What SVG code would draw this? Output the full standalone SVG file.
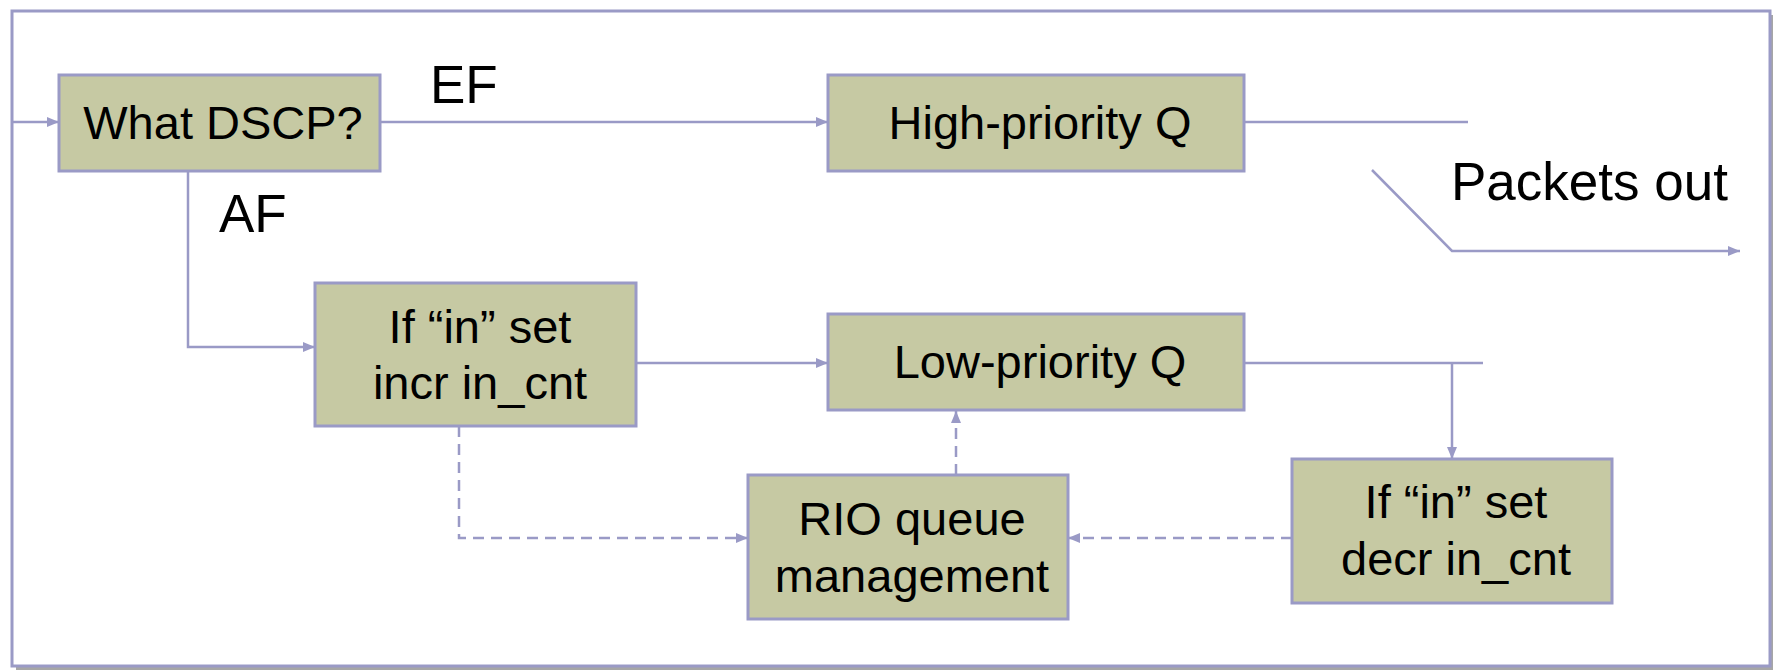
<svg xmlns="http://www.w3.org/2000/svg" width="1773" height="671" viewBox="0 0 1773 671">
  <defs>
    <marker id="arr" viewBox="0 0 12 10" refX="12" refY="5" markerWidth="12" markerHeight="10" markerUnits="userSpaceOnUse" orient="auto">
      <path d="M0,0 L12,5 L0,10 Z" fill="#9a9ac6"/>
    </marker>
    <style>
      .box { fill: #c6c9a3; stroke: #9a9ac6; stroke-width: 3; }
      .t { font-family: "Liberation Sans", Arial, sans-serif; font-size: 47px; fill: #000; text-anchor: middle; }
      .lbl { font-family: "Liberation Sans", Arial, sans-serif; font-size: 53px; fill: #000; }
      .ln { fill: none; stroke: #9a9ac6; stroke-width: 2.5; }
      .dash { fill: none; stroke: #9a9ac6; stroke-width: 2.5; stroke-dasharray: 11 7; }
    </style>
  </defs>
  <rect x="0" y="0" width="1773" height="671" fill="#ffffff"/>
  <!-- frame with shadow -->
  <rect x="16" y="15" width="1758" height="655" fill="#a6a6a6"/>
  <rect x="12" y="11" width="1758" height="655" fill="#ffffff" stroke="#9a9ac6" stroke-width="3"/>

  <g id="connectors">
    <line class="ln" x1="12" y1="122" x2="59" y2="122" marker-end="url(#arr)"/>
    <line class="ln" x1="380" y1="122" x2="828" y2="122" marker-end="url(#arr)"/>
    <polyline class="ln" points="188,171 188,347 315,347" marker-end="url(#arr)"/>
    <line class="ln" x1="636" y1="363" x2="828" y2="363" marker-end="url(#arr)"/>
    <line class="ln" x1="1244" y1="122" x2="1468" y2="122"/>
    <polyline class="ln" points="1372,170 1452,251 1740,251" marker-end="url(#arr)"/>
    <line class="ln" x1="1244" y1="363" x2="1483" y2="363"/>
    <line class="ln" x1="1452" y1="363" x2="1452" y2="459" marker-end="url(#arr)"/>
    <polyline class="dash" points="459,426 459,538 748,538" marker-end="url(#arr)"/>
    <line class="dash" x1="956" y1="475" x2="956" y2="411" marker-end="url(#arr)"/>
    <line class="dash" x1="1292" y1="538" x2="1068" y2="538" marker-end="url(#arr)"/>
  </g>

  <g id="labels">
    <text class="lbl" x="430" y="103">EF</text>
    <text class="lbl" x="219" y="232">AF</text>
    <text class="lbl" x="1451" y="200">Packets out</text>
  </g>

  <g id="dscp">
    <rect class="box" x="59" y="75" width="321" height="96"/>
    <text class="t" x="223" y="139">What DSCP?</text>
  </g>
  <g id="highq">
    <rect class="box" x="828" y="75" width="416" height="96"/>
    <text class="t" x="1040" y="139">High-priority Q</text>
  </g>
  <g id="incr">
    <rect class="box" x="315" y="283" width="321" height="143"/>
    <text class="t" x="480" y="343">If “in” set</text>
    <text class="t" x="480" y="399">incr in_cnt</text>
  </g>
  <g id="lowq">
    <rect class="box" x="828" y="314" width="416" height="96"/>
    <text class="t" x="1040" y="378">Low-priority Q</text>
  </g>
  <g id="rio">
    <rect class="box" x="748" y="475" width="320" height="144"/>
    <text class="t" x="912" y="535">RIO queue</text>
    <text class="t" x="912" y="592">management</text>
  </g>
  <g id="decr">
    <rect class="box" x="1292" y="459" width="320" height="144"/>
    <text class="t" x="1456" y="518">If “in” set</text>
    <text class="t" x="1456" y="575">decr in_cnt</text>
  </g>
</svg>
